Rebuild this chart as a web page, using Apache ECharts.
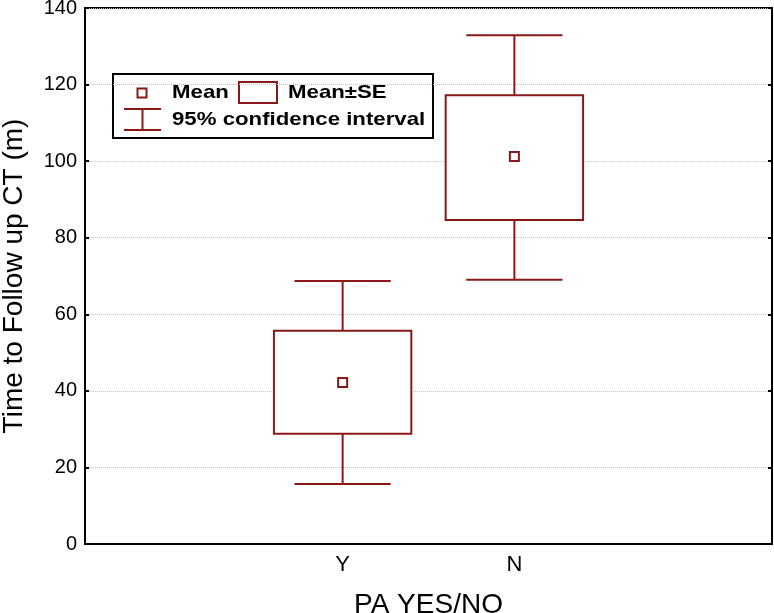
<!DOCTYPE html>
<html>
<head>
<meta charset="utf-8">
<script src="https://cdn.jsdelivr.net/npm/echarts@6/dist/echarts.min.js"></script>
<style>
html,body{margin:0;padding:0;background:#fff;}
#chart{width:774px;height:613px;}
</style>
</head>
<body>
<div id="chart"></div>
<script>
// ---- data ----
const categories = ['Y', 'N'];
const means = [42.2, 101.2];
const seLow = [28.8, 84.6];
const seHigh = [55.7, 117.2];
const ciLow = [15.7, 69.0];
const ciHigh = [68.7, 132.9];
const yTicks = [0, 20, 40, 60, 80, 100, 120, 140];

const axisCats = [''].concat(categories).concat(['']);
const rows = categories.map((c, i) => [c, means[i], seLow[i], seHigh[i], ciLow[i], ciHigh[i]]);

const RED = '#8a1818';
const FONT = '"Liberation Sans", Arial, sans-serif';

const chart = echarts.init(document.getElementById('chart'));

function renderItem(params, api) {
  const idx = api.value(0);
  const band = api.size([1, 0])[0];
  const pMean = api.coord([idx, api.value(1)]);
  const pSeL = api.coord([idx, api.value(2)]);
  const pSeH = api.coord([idx, api.value(3)]);
  const pCiL = api.coord([idx, api.value(4)]);
  const pCiH = api.coord([idx, api.value(5)]);
  const cx = pMean[0];
  const boxW = band * 0.80;
  const capW = band * 0.56;
  const st = { stroke: RED, lineWidth: 2, fill: null };
  return {
    type: 'group',
    children: [
      { type: 'line', shape: { x1: cx, y1: pCiH[1], x2: cx, y2: pSeH[1] }, style: st },
      { type: 'line', shape: { x1: cx, y1: pSeL[1], x2: cx, y2: pCiL[1] }, style: st },
      { type: 'line', shape: { x1: cx - capW / 2, y1: pCiH[1], x2: cx + capW / 2, y2: pCiH[1] }, style: st },
      { type: 'line', shape: { x1: cx - capW / 2, y1: pCiL[1], x2: cx + capW / 2, y2: pCiL[1] }, style: st },
      { type: 'rect', shape: { x: cx - boxW / 2, y: pSeH[1], width: boxW, height: pSeL[1] - pSeH[1] }, style: { stroke: RED, lineWidth: 2, fill: '#fff' } },
      { type: 'rect', shape: { x: cx - 4.5, y: pMean[1] - 4.5, width: 9, height: 9 }, style: { stroke: RED, lineWidth: 2, fill: '#fff' } }
    ]
  };
}

const option = {
  backgroundColor: '#fff',
  animation: false,
  grid: { left: 85, right: 2, top: 8, bottom: 69, show: true, borderColor: '#000', borderWidth: 2, backgroundColor: '#fff', containLabel: false, outerBoundsMode: 'none' },
  xAxis: [
    {
      type: 'category', data: axisCats, boundaryGap: true,
      axisLine: { lineStyle: { color: '#000', width: 2 } },
      axisTick: { alignWithLabel: true, inside: true, length: 4, interval: 0, lineStyle: { color: '#000', width: 2 } },
      axisLabel: { color: '#000', fontSize: 22, fontFamily: FONT, margin: 10, interval: 0 },
      name: 'PA YES/NO', nameLocation: 'middle', nameGap: 47,
      nameTextStyle: { color: '#000', fontSize: 28, fontFamily: FONT },
      splitLine: { show: false }
    },
    {
      type: 'category', data: axisCats, boundaryGap: true, position: 'top',
      axisLine: { lineStyle: { color: '#000', width: 2 } },
      axisTick: { alignWithLabel: true, inside: true, length: 4, interval: 0, lineStyle: { color: '#000', width: 2 } },
      axisLabel: { show: false },
      splitLine: { show: false }
    }
  ],
  yAxis: [
    {
      type: 'value', min: yTicks[0], max: yTicks[yTicks.length - 1], interval: yTicks[1] - yTicks[0],
      axisLine: { show: true, lineStyle: { color: '#000', width: 2 } },
      axisTick: { show: true, inside: true, length: 4, lineStyle: { color: '#000', width: 2 } },
      axisLabel: { color: '#000', fontSize: 20, fontFamily: FONT, margin: 8 },
      splitLine: { show: true, lineStyle: { color: '#c4c4c4', type: 'dotted', width: 1 } },
      name: 'Time to Follow up CT (m)', nameLocation: 'middle', nameGap: 57,
      nameTextStyle: { color: '#000', fontSize: 28, fontFamily: FONT }
    },
    {
      type: 'value', min: yTicks[0], max: yTicks[yTicks.length - 1], interval: yTicks[1] - yTicks[0], position: 'right',
      axisLine: { show: true, lineStyle: { color: '#000', width: 2 } },
      axisTick: { show: true, inside: true, length: 4, lineStyle: { color: '#000', width: 2 } },
      axisLabel: { show: false },
      splitLine: { show: false }
    }
  ],
  series: [
    {
      type: 'custom',
      renderItem: renderItem,
      encode: { x: 0, y: [1, 2, 3, 4, 5] },
      data: rows,
      z: 5
    }
  ],
  graphic: [
    {
      type: 'group', left: 112, top: 73, z: 100,
      children: [
        { type: 'rect', shape: { x: 0, y: 0, width: 320, height: 64 }, style: { fill: '#fff', stroke: '#000', lineWidth: 2 } },
        { type: 'rect', shape: { x: 24.5, y: 14.5, width: 9, height: 9 }, style: { fill: '#fff', stroke: RED, lineWidth: 2 } },
        { type: 'text', x: 59, y: 19, style: { text: 'Mean', fill: '#000', font: 'bold 19px ' + FONT, verticalAlign: 'middle' }, scaleX: 1.17 },
        { type: 'rect', shape: { x: 126, y: 8, width: 38, height: 21 }, style: { fill: '#fff', stroke: RED, lineWidth: 2 } },
        { type: 'text', x: 175, y: 19, style: { text: 'Mean±SE', fill: '#000', font: 'bold 19px ' + FONT, verticalAlign: 'middle' }, scaleX: 1.17 },
        { type: 'line', shape: { x1: 11, y1: 35, x2: 48, y2: 35 }, style: { stroke: RED, lineWidth: 2 } },
        { type: 'line', shape: { x1: 11, y1: 56, x2: 48, y2: 56 }, style: { stroke: RED, lineWidth: 2 } },
        { type: 'line', shape: { x1: 29.5, y1: 35, x2: 29.5, y2: 56 }, style: { stroke: RED, lineWidth: 2 } },
        { type: 'text', x: 59, y: 46, style: { text: '95% confidence interval', fill: '#000', font: 'bold 19px ' + FONT, verticalAlign: 'middle' }, scaleX: 1.17 }
      ]
    }
  ]
};
chart.setOption(option);
</script>
</body>
</html>
